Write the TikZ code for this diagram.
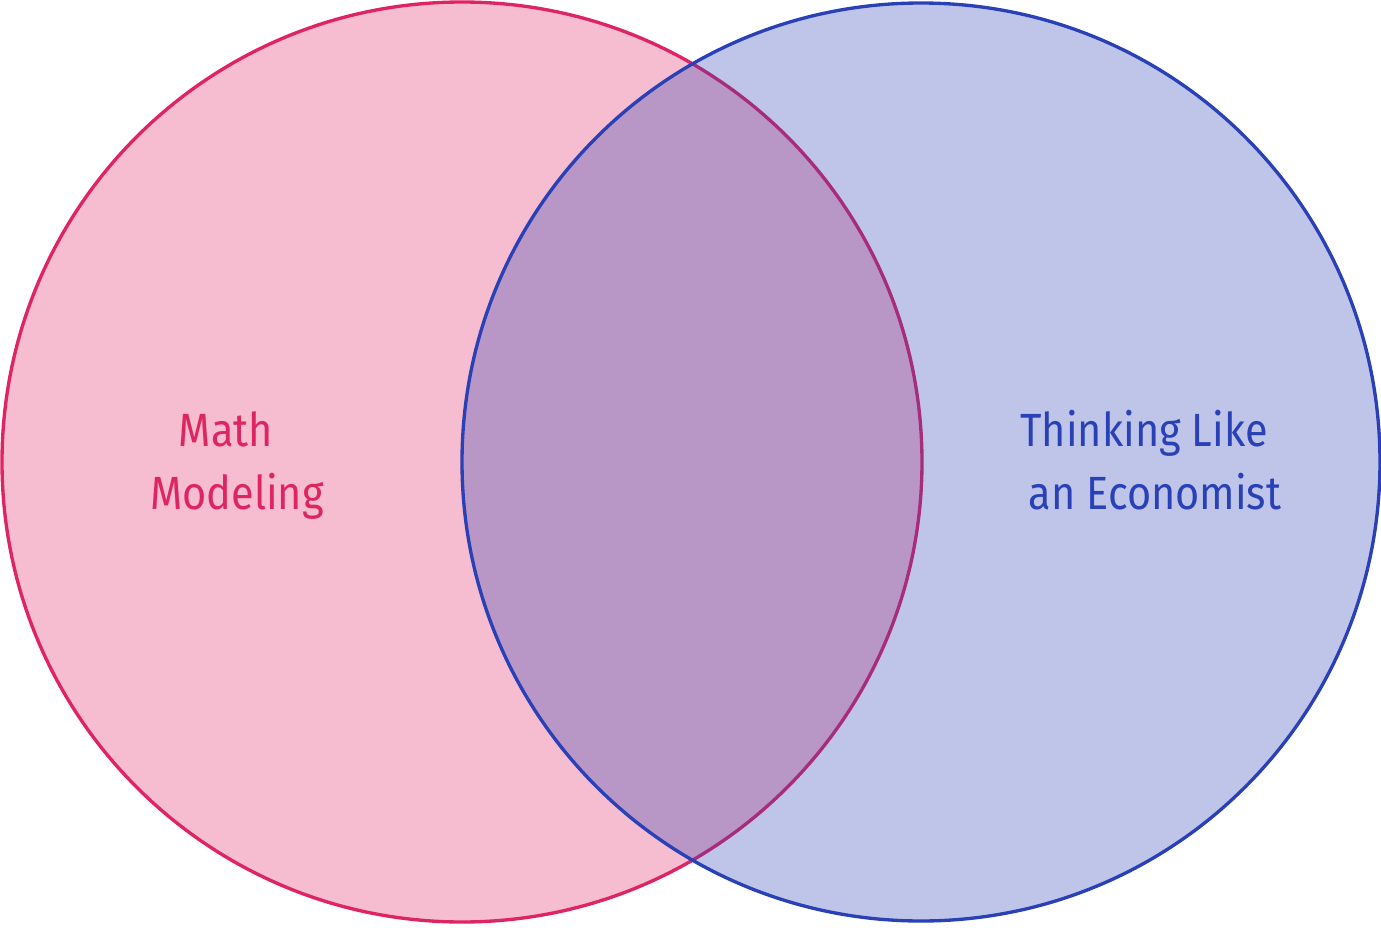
\documentclass[tikz,border=0pt]{standalone}
\usepackage{fontspec}
\setmainfont{Fira Sans}[FakeStretch=0.89]
\usepackage{xcolor}
\usetikzlibrary{positioning}

\definecolor{mathred}{HTML}{DE2461}
\definecolor{econblue}{HTML}{2A40B6}

\begin{document}
\begin{tikzpicture}[
  set/.style={line width=1.9pt, fill opacity=0.3},
  lbl/.style={anchor=base, font=\fontsize{26.5}{32}\selectfont, inner sep=0pt}
]
\useasboundingbox (0,0) rectangle (27.62,-18.56);
% the two sets
\draw[set, draw=mathred, fill=mathred] (9.24,-9.24) circle (9.2);
\draw[set, draw=econblue, fill=econblue] (18.42,-9.24) circle (9.18);
% labels
\node[lbl, text=mathred] (math) at (4.52,-8.92) {Math};
\node[lbl, text=mathred] (modeling) at (4.74,-10.18) {Modeling};
\node[lbl, text=econblue] (thinking) at (22.88,-8.92) {Thinking Like};
\node[lbl, text=econblue] (economist) at (23.10,-10.18) {an Economist};
\end{tikzpicture}
\end{document}
